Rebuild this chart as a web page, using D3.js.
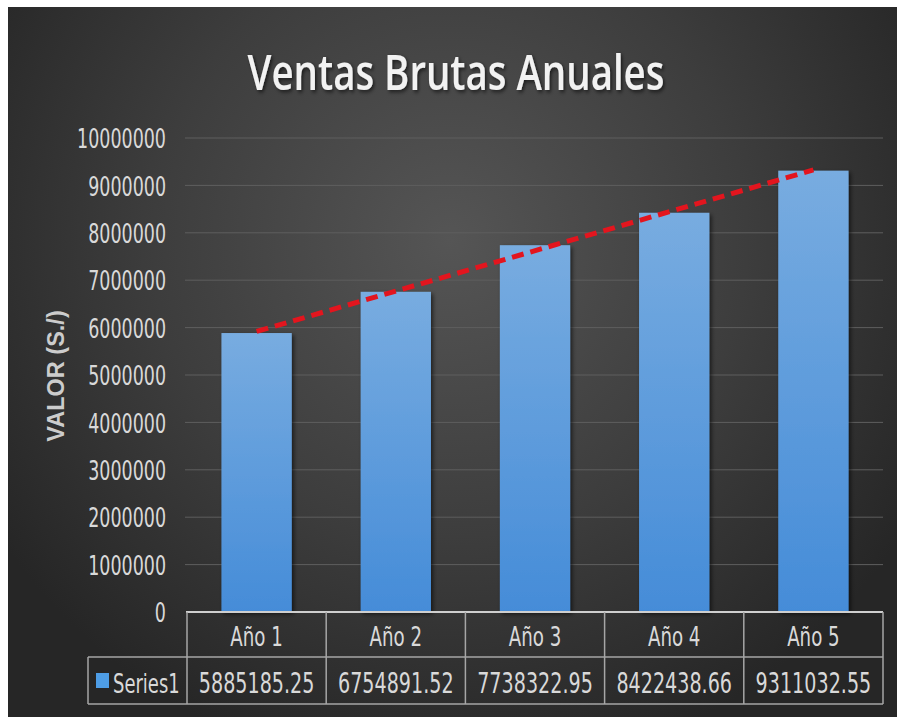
<!DOCTYPE html>
<html>
<head>
<meta charset="utf-8">
<script src="https://cdnjs.cloudflare.com/ajax/libs/d3/7.8.5/d3.min.js"></script>
<style>
    body { margin: 0; background: #fff; }
    svg { display: block; }
    text { font-family: "DejaVu Sans Condensed", "DejaVu Sans", sans-serif; fill: #d9d9d9; }
</style>
</head>
<body>
<div id="chart"></div>
<script>

var categories = ["Año 1", "Año 2", "Año 3", "Año 4", "Año 5"];
var values = [5885185.25, 6754891.52, 7738322.95, 8422438.66, 9311032.55];
var valueLabels = ["5885185.25", "6754891.52", "7738322.95", "8422438.66", "9311032.55"];
var yTicks = [0, 1000000, 2000000, 3000000, 4000000, 5000000, 6000000, 7000000, 8000000, 9000000, 10000000];
var seriesName = "Series1";

var width = 897, height = 717;

// estrecha el texto horizontalmente (tipo Calibri) alrededor de su punto de anclaje
function squeeze(sel, sx) {
    sel.each(function(){
        var t = d3.select(this);
        var tx = +t.attr("x") || 0, ty = +t.attr("y") || 0;
        t.attr("x", 0).attr("y", 0)
         .attr("transform", "translate(" + tx + "," + ty + ") scale(" + sx + ",1)");
    });
}

var svg = d3.select("#chart").append("svg")
    .attr("width", width)
    .attr("height", height);

var defs = svg.append("defs");

var bg = defs.append("radialGradient")
    .attr("id", "bg")
    .attr("gradientUnits", "userSpaceOnUse")
    .attr("cx", 450).attr("cy", 240).attr("r", 540);
bg.append("stop").attr("offset", "0%").attr("stop-color", "#555555");
bg.append("stop").attr("offset", "55%").attr("stop-color", "#3d3d3d");
bg.append("stop").attr("offset", "100%").attr("stop-color", "#262626");

var barGrad = defs.append("linearGradient")
    .attr("id", "bar")
    .attr("x1", 0).attr("y1", 0).attr("x2", 0).attr("y2", 1);
barGrad.append("stop").attr("offset", "0%").attr("stop-color", "#78ace0");
barGrad.append("stop").attr("offset", "100%").attr("stop-color", "#458cd8");

var shadow = defs.append("filter").attr("id", "shadow")
    .attr("x", "-20%").attr("y", "-20%").attr("width", "140%").attr("height", "140%");
shadow.append("feDropShadow")
    .attr("dx", 2).attr("dy", 2).attr("stdDeviation", 2)
    .attr("flood-color", "#000").attr("flood-opacity", 0.6);

// fondo
svg.append("rect")
    .attr("x", 8).attr("y", 7)
    .attr("width", width - 8).attr("height", height - 7)
    .attr("fill", "url(#bg)");

var plotLeft = 187, plotRight = 883;
var tableTop = 612, rowSplit = 657, tableBottom = 704;

var y = d3.scaleLinear()
    .domain([0, 10000000])
    .range([612, 138]);

var x = d3.scaleBand()
    .domain(categories)
    .range([plotLeft, plotRight])
    .padding(0);

var barWidth = x.bandwidth() * 0.505;

// titulo
svg.append("text")
    .attr("x", 456)
    .attr("y", 90)
    .attr("text-anchor", "middle")
    .style("font-family", "'Open Sans', sans-serif")
    .style("font-size", "48px")
    .style("font-weight", "600")
    .style("fill", "#f2f2f2")
    .attr("filter", "url(#shadow)")
    .text("Ventas Brutas Anuales")
    .call(squeeze, 0.8);

// eje y titulo
svg.append("text")
    .attr("transform", "translate(64,376) rotate(-90)")
    .attr("text-anchor", "middle")
    .style("font-family", "'Liberation Sans', Arial, sans-serif")
    .style("font-size", "23.5px")
    .style("font-weight", "bold")
    .style("fill", "#cccccc")
    .text("VALOR (S./)");

// grid
svg.append("g")
    .selectAll("line")
    .data(yTicks.filter(function(d){ return d > 0 }))
    .enter()
    .append("line")
    .attr("x1", plotLeft - 2)
    .attr("x2", plotRight)
    .attr("y1", function(d){ return y(d) })
    .attr("y2", function(d){ return y(d) })
    .attr("stroke", "#5e5e5e")
    .attr("stroke-width", 1);

// etiquetas eje y
var yAxis = svg.append("g")
    .attr("transform", "translate(" + (plotLeft - 21) + ",0)")
    .call(d3.axisLeft(y).tickValues(yTicks).tickSize(0).tickPadding(0).tickFormat(d3.format("d")));
yAxis.select(".domain").remove();
yAxis.selectAll("text")
    .attr("dy", "0.36em")
    .style("font-family", "'DejaVu Sans Condensed', sans-serif")
    .style("font-size", "27px")
    .style("fill", "#d9d9d9")
    .call(squeeze, 0.72);

// barras
svg.append("g")
    .selectAll("rect")
    .data(values)
    .enter()
    .append("rect")
    .attr("x", function(d, i){ return x(categories[i]) + (x.bandwidth() - barWidth) / 2 })
    .attr("y", function(d){ return y(d) })
    .attr("width", barWidth)
    .attr("height", function(d){ return y(0) - y(d) })
    .attr("fill", "url(#bar)")
    .attr("filter", "url(#shadow)");

// linea de tendencia (regresion lineal)
var n = values.length;
var xs = d3.range(1, n + 1);
var mx = d3.mean(xs), my = d3.mean(values);
var slope = d3.sum(xs, function(xi, i){ return (xi - mx) * (values[i] - my) }) /
            d3.sum(xs, function(xi){ return (xi - mx) * (xi - mx) });
var icpt = my - slope * mx;

var trend = [1, n].map(function(xi){
    return [x(categories[xi - 1]) + x.bandwidth() / 2, y(icpt + slope * xi)];
});

svg.append("path")
    .attr("d", d3.line()(trend))
    .attr("fill", "none")
    .attr("stroke", "#e3151e")
    .attr("stroke-width", 5)
    .attr("stroke-dasharray", "12,7");

// tabla de datos
var table = svg.append("g");
var lineColor = "#a6a6a6";

table.append("line")
    .attr("x1", plotLeft - 1).attr("x2", plotRight)
    .attr("y1", tableTop).attr("y2", tableTop)
    .attr("stroke", "#cfcfcf").attr("stroke-width", 2);

table.selectAll(".hline")
    .data([rowSplit, tableBottom])
    .enter()
    .append("line")
    .attr("class", "hline")
    .attr("x1", 88).attr("x2", plotRight)
    .attr("y1", function(d){ return d }).attr("y2", function(d){ return d })
    .attr("stroke", lineColor).attr("stroke-width", 1.5);

var colEdges = categories.map(function(c){ return x(c) }).concat([plotRight]);
table.selectAll(".vline")
    .data(colEdges)
    .enter()
    .append("line")
    .attr("class", "vline")
    .attr("x1", function(d){ return d }).attr("x2", function(d){ return d })
    .attr("y1", tableTop).attr("y2", tableBottom)
    .attr("stroke", lineColor).attr("stroke-width", 1.5);

table.append("line")
    .attr("x1", 88).attr("x2", 88)
    .attr("y1", rowSplit).attr("y2", tableBottom)
    .attr("stroke", lineColor).attr("stroke-width", 1.5);

table.selectAll(".cat-label")
    .data(categories)
    .enter()
    .append("text")
    .attr("class", "cat-label")
    .attr("x", function(d){ return x(d) + x.bandwidth() / 2 })
    .attr("y", 646)
    .attr("text-anchor", "middle")
    .style("font-size", "27px")
    .text(function(d){ return d })
    .call(squeeze, 0.75);

table.selectAll(".val-label")
    .data(valueLabels)
    .enter()
    .append("text")
    .attr("class", "val-label")
    .attr("x", function(d, i){ return x(categories[i]) + x.bandwidth() / 2 })
    .attr("y", 693)
    .attr("text-anchor", "middle")
    .style("font-size", "28px")
    .text(function(d){ return d })
    .call(squeeze, 0.76);

table.append("rect")
    .attr("x", 96).attr("y", 673)
    .attr("width", 13).attr("height", 15)
    .attr("fill", "#4e9de6");

table.append("text")
    .attr("x", 113)
    .attr("y", 693)
    .style("font-size", "27px")
    .text(seriesName)
    .call(squeeze, 0.74);

</script>
</body>
</html>
